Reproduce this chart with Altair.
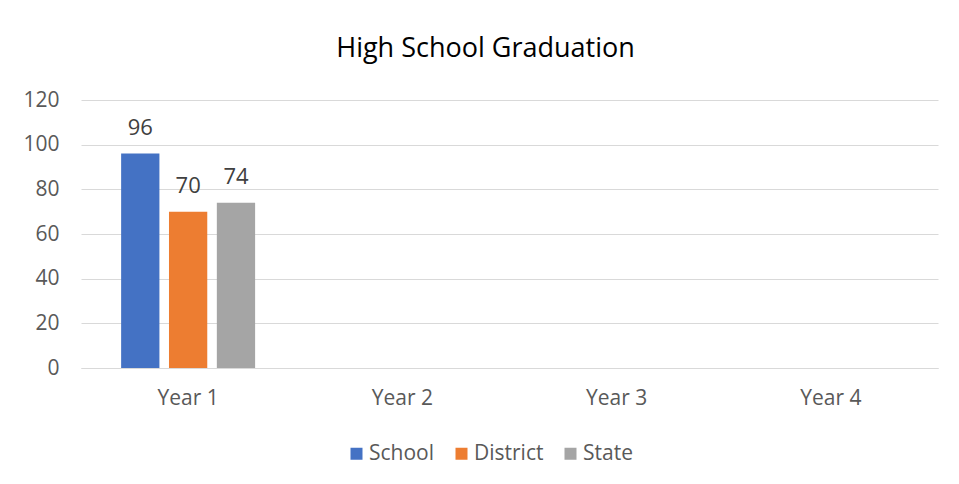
import altair as alt
import pandas as pd

years = ["Year 1", "Year 2", "Year 3", "Year 4"]
series = ["School", "District", "State"]
colors = ["#4472C4", "#ED7D31", "#A5A5A5"]
# values for Year 1 only (other years empty)
year1_values = [96, 70, 74]

rows = []
for s, v in zip(series, year1_values):
    rows.append({"year": "Year 1", "series": s, "value": v})
df = pd.DataFrame(rows)

FONT = "Open Sans"

xscale = alt.Scale(domain=years, paddingInner=0.33, paddingOuter=0.165)
x_enc = alt.X("year:N", scale=xscale,
              axis=alt.Axis(title=None, labelAngle=0, ticks=False, domainColor="#D9D9D9",
                            labelColor="#595959", labelFontSize=21, labelFont=FONT,
                            labelPadding=19))
xo_enc = alt.XOffset("series:N", scale=alt.Scale(domain=series, paddingInner=0.2, paddingOuter=0.1))

bars = alt.Chart(df).mark_bar().encode(
    x=x_enc,
    xOffset=xo_enc,
    y=alt.Y("value:Q", scale=alt.Scale(domain=[0, 120]),
            axis=alt.Axis(title=None, values=[0, 20, 40, 60, 80, 100, 120], domain=False, ticks=False,
                          gridColor="#D9D9D9", labelColor="#595959", labelFontSize=21,
                          labelFont=FONT, labelPadding=22)),
    color=alt.Color("series:N", scale=alt.Scale(domain=series, range=colors),
                    legend=alt.Legend(title=None, orient="none", direction="horizontal",
                                      legendX=265, legendY=343, symbolType="square",
                                      symbolSize=144, symbolStrokeWidth=0, labelFontSize=21,
                                      labelFont=FONT, labelColor="#595959", labelOffset=2,
                                      columnPadding=16)),
)

labels = alt.Chart(df).mark_text(dy=-26, fontSize=22, font=FONT, color="#404040").encode(
    x=alt.X("year:N", scale=xscale),
    xOffset=xo_enc,
    y="value:Q",
    text="value:Q",
)

chart = alt.layer(bars, labels).properties(
    width=857, height=268,
    background="white",
    title=alt.TitleParams("High School Graduation", fontSize=27, font=FONT, fontWeight="normal",
                          color="#000000", anchor="middle", dx=-24, offset=26),
    autosize=alt.AutoSizeParams(type="none"),
    padding={"left": 73, "top": 92, "right": 13, "bottom": 108},
).configure_view(strokeWidth=0)

chart.save("out.html", embed_options={"renderer": "svg", "actions": False})
